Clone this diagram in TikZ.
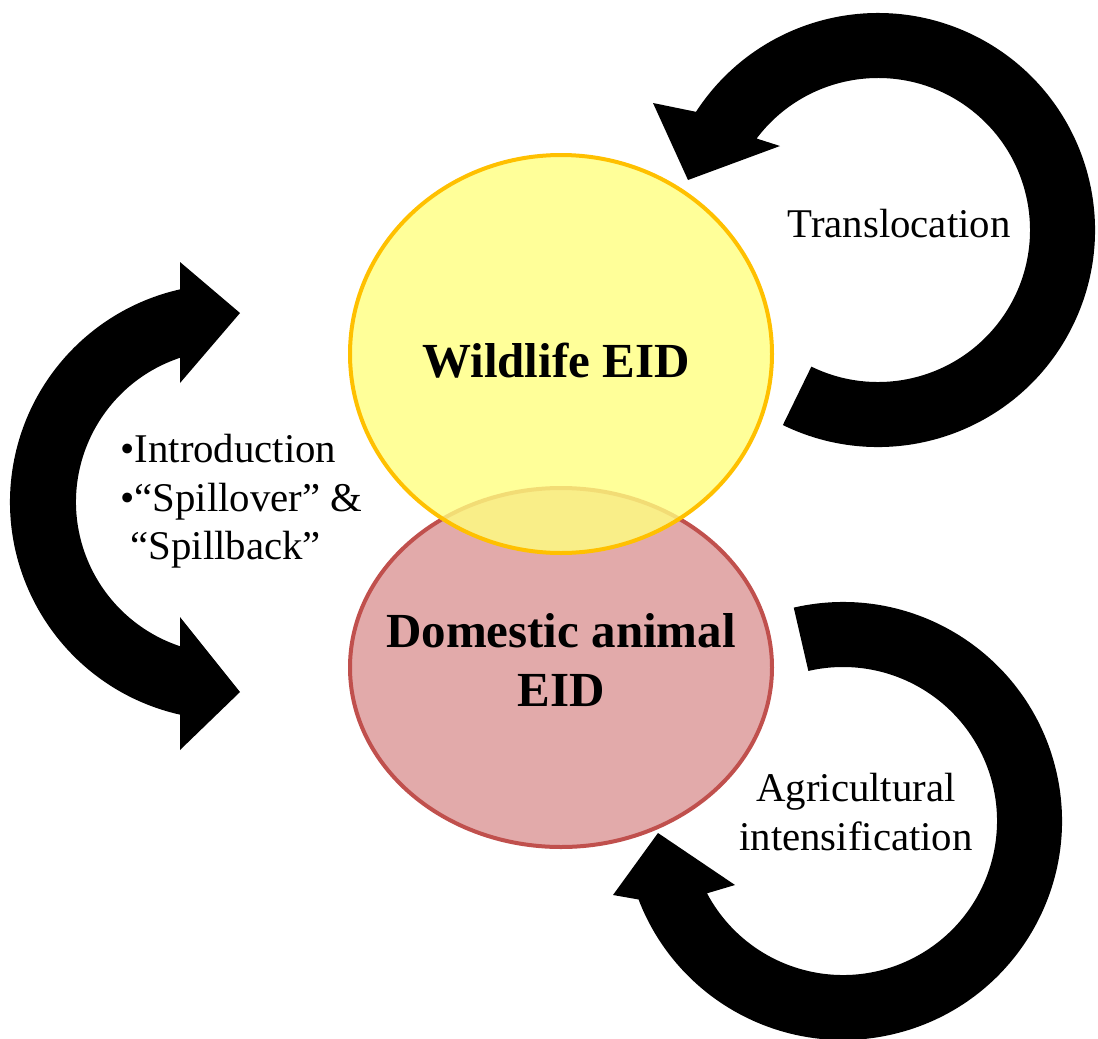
\documentclass[tikz,border=0pt]{standalone}
\usepackage{fontspec}
\setmainfont{Liberation Serif}
\usetikzlibrary{shapes.geometric}
\definecolor{wildfill}{HTML}{FFFF80}
\definecolor{wildline}{HTML}{FFC000}
\definecolor{domfill}{HTML}{E2AAAA}
\definecolor{domline}{HTML}{C0504D}
\begin{document}
\begin{tikzpicture}[x=0.5pt,y=0.5pt,
  eid/.style={ellipse, line width=2pt, minimum width=211pt, inner sep=0pt},
  eidlabel/.style={font=\bfseries\fontsize{24.5}{29.5}\selectfont, align=center, inner sep=0pt},
  cyclelabel/.style={font=\fontsize{20.4}{24.3}\selectfont, inner sep=0pt}]
\useasboundingbox (0,0) rectangle (1098,-1039);

% Host circles
\node[eid, draw=domline, fill=domfill, minimum height=179.5pt] (dom) at (561,-667.5) {};
\node[eid, draw=wildline, fill=wildfill, fill opacity=0.8, minimum height=199pt] (wild) at (561,-354) {};
\node[eidlabel, anchor=base] (wildtxt) at (556,-377) {Wildlife EID};
\node[eidlabel, anchor=north] (domtxt) at (561,-613) {Domestic animal\\EID};

% Translocation arrow
\fill ([shift={(878,-230)}]-116:217) arc[start angle=-116, end angle=147, radius=217]
  -- (653,-103) -- (688,-180) -- (780,-146)
  -- ([shift={(878,-230)}]143:152) arc[start angle=143, end angle=-116, radius=152] -- cycle;
\node[cyclelabel, anchor=base] (transl) at (899,-237) {Translocation};

% Spillover arrow, two heads
\fill ([shift={(228,-502)}]102.7:218) -- (180,-262) -- (240,-313) -- (180,-383)
  -- ([shift={(228,-502)}]108.4:152) arc[start angle=108.4, end angle=251.6, radius=152]
  -- (180,-617) -- (240,-692) -- (180,-750)
  -- ([shift={(228,-502)}]-102.7:218) arc[start angle=-102.7, end angle=-257.3, radius=218] -- cycle;
\node[cyclelabel, align=left, anchor=north west] (spill) at (120,-434)
  {•Introduction\\•“Spillover” \&\\\hspace*{.25em}“Spillback”};

% Agriculture arrow
\fill ([shift={(843,-821)}]103:219) arc[start angle=103, end angle=-159, radius=219]
  -- (613,-895) -- (658,-833) -- (735,-885)
  -- ([shift={(843,-821)}]-152:154) arc[start angle=-152, end angle=103, radius=154] -- cycle;
\node[cyclelabel, align=center, anchor=north] (agri) at (856,-773) {Agricultural\\intensification};
\end{tikzpicture}
\end{document}
